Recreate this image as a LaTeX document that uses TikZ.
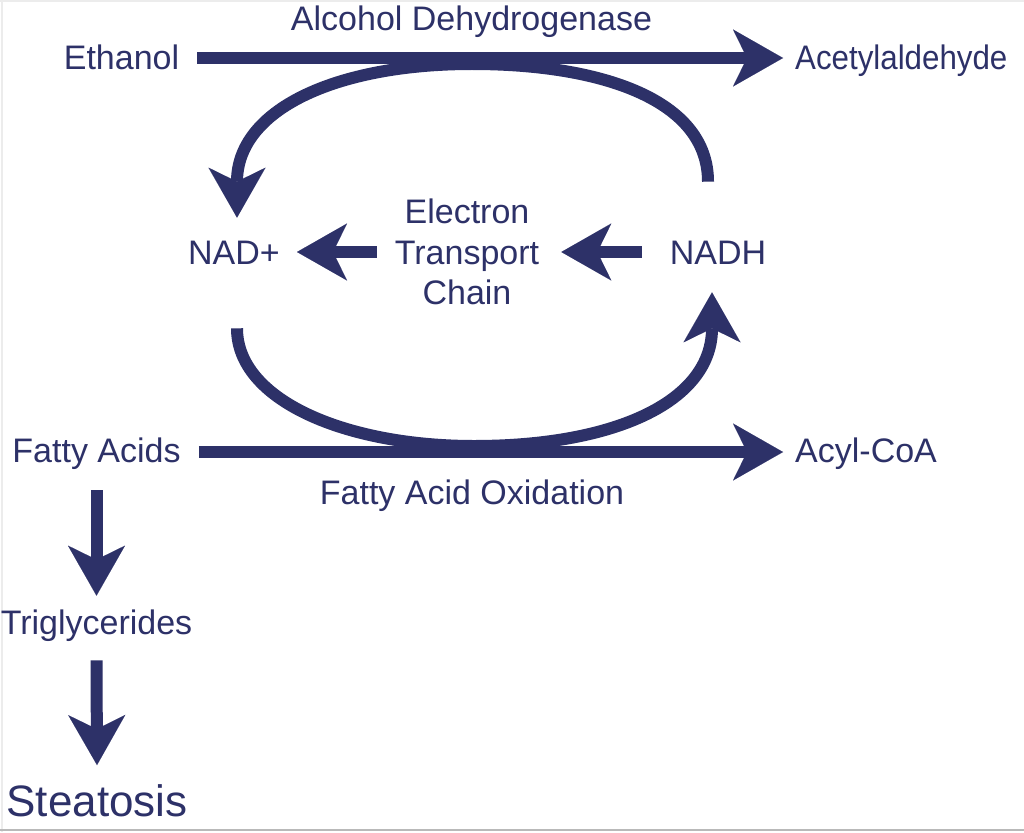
\documentclass[tikz,border=0pt]{standalone}
\usepackage{fontspec}
\usepackage{graphicx}
\setmainfont{Liberation Sans}
\usetikzlibrary{arrows.meta}
\definecolor{navy}{RGB}{45,49,104}
\begin{document}
\begin{tikzpicture}[x=1pt,y=-1pt,
  lbl/.style={text=navy, font=\fontsize{34}{40.5}\selectfont, inner sep=0pt, text height=24.3pt, text depth=0pt},
  big/.style={text=navy, font=\fontsize{44}{50}\selectfont, inner sep=0pt, text height=31.5pt, text depth=0pt},
  etcl/.style={text=navy, font=\fontsize{34}{40.5}\selectfont, inner sep=0pt, align=center},
  arr/.style={draw=navy, line width=12pt, -{Stealth[length=50pt,width=57pt,inset=14pt,line width=0.01pt]}}]
\fill[white] (0,0) rectangle (1024,832);
\useasboundingbox (0,0) rectangle (1024,832);
\draw[gray!15, line width=1.5pt] (0,1) -- (1024,1);
\draw[gray!15, line width=2pt] (2,0) -- (2,832);
\draw[gray!55, line width=2pt] (0,830) -- (1024,830);

% labels
\node[lbl] (eth) at (121.5,57) {Ethanol};
\node[lbl] (adh) at (471.5,18) {Alcohol Dehydrogenase};
\node[lbl, anchor=west] (acet) at (795,57) {\scalebox{0.92}[1]{Acetylaldehyde}};
\node[lbl] (nad) at (234,252) {NAD+};
\node[etcl] (etc) at (467,252) {Electron\\Transport\\Chain};
\node[lbl] (nadh) at (718,252) {NADH};
\node[lbl] (fa) at (96.5,450) {Fatty Acids};
\node[lbl, anchor=west] (acyl) at (795,450) {Acyl-CoA};
\node[lbl] (fao) at (472,492) {Fatty Acid Oxidation};
\node[lbl] (tri) at (96.5,622) {Triglycerides};
\node[big] (ste) at (97,801) {Steatosis};

% main horizontal reactions
\draw[arr] ([xshift=18pt,yshift=-1pt]eth.east) -- ([xshift=-12pt,yshift=-1pt]acet.west);
\draw[arr] ([xshift=18pt,yshift=-2pt]fa.east) -- ([xshift=-12pt,yshift=-2pt]acyl.west);

% NADH -> NAD+ (top loop)
\draw[arr] ([xshift=-10pt,yshift=58pt]nadh.north) .. controls (708,100) and (602,64) .. (472,64)
  .. controls (335,64) and (237,110) .. ([xshift=3pt,yshift=22pt]nad.north);

% NAD+ -> NADH (bottom loop)
\draw[arr] ([xshift=3pt,yshift=-64pt]nad.south) .. controls (237,400) and (345,446) .. (474,446)
  .. controls (618,446) and (712,400) .. ([xshift=-6pt,yshift=-28pt]nadh.south);

% electron transport chain
\draw[arr] ([xshift=-28pt]nadh.west) -- ([xshift=22pt]etc.east);
\draw[arr] ([xshift=-18pt]etc.west) -- ([xshift=17pt]nad.east);

% fatty acids to steatosis
\draw[arr] ([yshift=-28pt]fa.south) -- ([yshift=14pt]tri.north);
\draw[arr] ([yshift=-26pt]tri.south) -- ([yshift=20pt]ste.north);
\end{tikzpicture}
\end{document}
